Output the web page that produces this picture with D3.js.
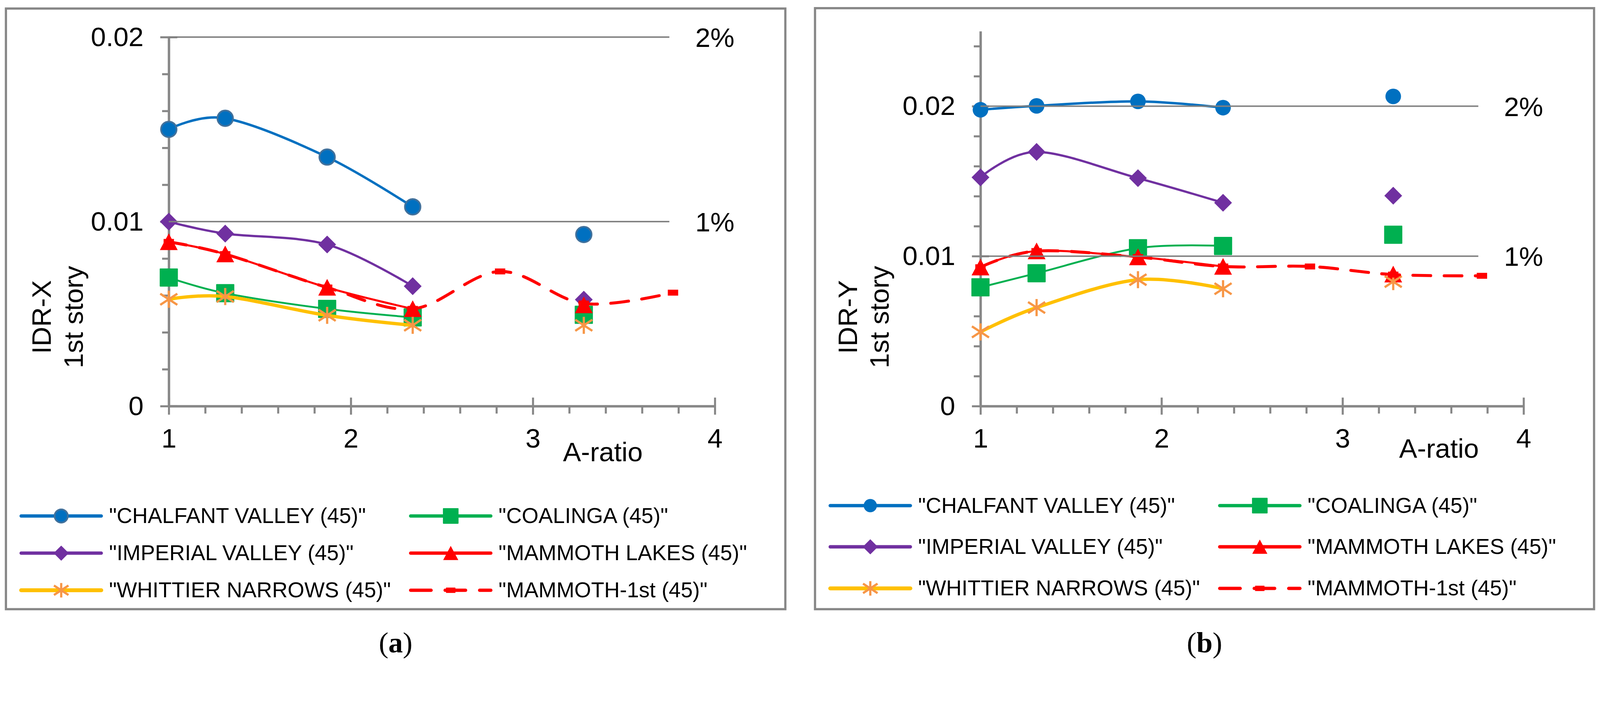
<!DOCTYPE html>
<html>
<head>
	<meta charset="utf-8" />
	<title>IDR 1st story vs A-ratio</title>
	<script src="https://cdn.jsdelivr.net/npm/d3@7"></script>
	<style>
		html, body { margin: 0; padding: 0; background: #fff; overflow: hidden; }
		#chart { display: block; width: 100vw; height: auto; max-height: 100vh; }
		svg text { font-family: "Liberation Sans", Arial, sans-serif; fill: #000; }
	</style>
</head>
<body>
	<svg id="chart" viewBox="0 0 4313 1801" preserveAspectRatio="xMinYMin meet"></svg>
	<script>
		// A-ratio positions (the 2.82 and 3.77 columns only carry the MAMMOTH-1st series)
		var aRatio = [1, 1.31, 1.87, 2.34, 2.82, 3.28, 3.77];

		// (a) IDR-X, 1st story
		var chalfantX   = [0.0150, 0.0156, 0.0135, 0.0108, null, 0.0093, null];
		var coalingaX   = [0.00697, 0.00612, 0.00527, 0.00481, null, 0.00495, null];
		var imperialX   = [0.0100, 0.00935, 0.00876, 0.0065, null, 0.00577, null];
		var mammothX    = [0.0089, 0.00824, 0.00643, 0.00527, null, 0.00548, null];
		var whittierX   = [0.00579, 0.00594, 0.00492, 0.00438, null, 0.00438, null];
		var mammoth1stX = [0.0089, 0.00824, 0.00643, 0.00527, 0.0073, 0.00556, 0.00615];

		// (b) IDR-Y, 1st story
		var chalfantY   = [0.01976, 0.02002, 0.02032, 0.0199, null, 0.02065, null];
		var coalingaY   = [0.00792, 0.00886, 0.01053, 0.01068, null, 0.01143, null];
		var imperialY   = [0.01525, 0.01695, 0.0152, 0.01356, null, 0.01403, null];
		var mammothY    = [0.00926, 0.01034, 0.00994, 0.00931, null, 0.00879, null];
		var whittierY   = [0.00495, 0.00657, 0.00843, 0.00783, null, 0.0083, null];
		var mammoth1stY = [0.00926, 0.01034, 0.00994, 0.00931, 0.00931, 0.00877, 0.00869];

		var seriesNames = ['"CHALFANT VALLEY (45)"', '"COALINGA (45)"', '"IMPERIAL VALLEY (45)"',
			'"MAMMOTH LAKES (45)"', '"WHITTIER NARROWS (45)"', '"MAMMOTH-1st (45)"'];

		var driftLevels = [0.01, 0.02];
		var driftLabels = ["1%", "2%"];
		var driftEnd = 3.75;

		var xTicks = [1, 2, 3, 4];
		var yTicks = [0, 0.01, 0.02];

		// styles, same order as seriesNames
		var styles = [
			{ color: "#0070C0", marker: "circle", width: 6.5, legendWidth: 9 },
			{ color: "#00B050", marker: "square", width: 5, legendWidth: 9 },
			{ color: "#7030A0", marker: "diamond", width: 6, legendWidth: 9 },
			{ color: "#FF0000", marker: "triangle", width: 5.5, legendWidth: 9 },
			{ color: "#FFC000", marker: "star", markerColor: "#F79646", width: 9, legendWidth: 10.5 },
			{ color: "#FF0000", marker: "dash", width: 8, legendWidth: 9, dashed: true }
		];

		var panels = [
			{ box: [16, 23, 2117, 1641], left: 455, right: 1927, top: 100, bottom: 1094, yMax: 0.02,
			  title: "IDR-X", titleX: 137, ringed: true, xTitle: [1625, 1242],
			  legendRows: [1390, 1490, 1590], tag: "a",
			  values: [chalfantX, coalingaX, imperialX, mammothX, whittierX, mammoth1stX] },
			{ box: [2197, 22, 4297, 1641], left: 2643, right: 4107, top: 84, bottom: 1094, yMax: 0.025,
			  title: "IDR-Y", titleX: 2310, ringed: false, xTitle: [3879, 1233],
			  legendRows: [1362, 1473, 1585], tag: "b",
			  values: [chalfantY, coalingaY, imperialY, mammothY, whittierY, mammoth1stY] }
		];

		var gray = "#878787";
		var svg = d3.select("#chart");
		svg.append("rect").attr("width", 4313).attr("height", 1801).attr("fill", "#fff");

		function markerPath(kind, s) {
			var p = d3.path();
			if (kind === "circle") {
				p.arc(0, 0, 21 * s, 0, 2 * Math.PI);
			} else if (kind === "diamond") {
				var r = 24 * s;
				p.moveTo(0, -r); p.lineTo(r, 0); p.lineTo(0, r); p.lineTo(-r, 0); p.closePath();
			} else if (kind === "square") {
				var h = 23 * s;
				p.rect(-h, -h, 2 * h, 2 * h);
			} else if (kind === "triangle") {
				p.moveTo(0, -23 * s); p.lineTo(24 * s, 22 * s); p.lineTo(-24 * s, 22 * s); p.closePath();
			} else if (kind === "star") {
				var a = 23 * s, b = 15 * s;
				p.moveTo(-a, -b); p.lineTo(a, b);
				p.moveTo(-a, b); p.lineTo(a, -b);
				p.moveTo(0, -a); p.lineTo(0, a);
			} else if (kind === "dash") {
				p.rect(-14 * s, -8 * s, 28 * s, 16 * s);
			}
			return p.toString();
		}

		function drawMarker(g, st, cx, cy, s, ringed) {
			var m = g.append("path")
				.attr("d", markerPath(st.marker, s))
				.attr("transform", "translate(" + cx + "," + cy + ")");
			if (st.marker === "star") {
				m.attr("fill", "none").attr("stroke", st.markerColor).attr("stroke-width", 6);
			} else {
				m.attr("fill", st.color).attr("stroke-linejoin", "round");
				if (st.marker === "circle" && ringed) {
					m.attr("stroke", "#41719C").attr("stroke-width", 4.5);
				} else if (st.marker === "square") {
					m.attr("stroke", st.color).attr("stroke-width", 3);
				}
			}
		}

		panels.forEach(function (p) {
			var g = svg.append("g");

			// panel frame
			g.append("rect")
				.attr("x", p.box[0]).attr("y", p.box[1])
				.attr("width", p.box[2] - p.box[0]).attr("height", p.box[3] - p.box[1])
				.attr("fill", "none").attr("stroke", gray).attr("stroke-width", 6);

			var x = d3.scaleLinear().domain([1, 4]).range([p.left, p.right]);
			var y = d3.scaleLinear().domain([0, p.yMax]).range([p.bottom, p.top]);

			// minor ticks
			var xMinor = d3.range(0, 16).filter(function (i) { return i % 5 !== 0; })
				.map(function (i) { return 1 + i * 0.2; });
			var yMinor = d3.range(1, Math.floor(p.yMax / 0.002 + 1e-6) + 1)
				.filter(function (i) { return i % 5 !== 0; })
				.map(function (i) { return i * 0.002; });

			var gxm = g.append("g").attr("transform", "translate(0," + p.bottom + ")")
				.call(d3.axisBottom(x).tickValues(xMinor).tickSizeInner(20).tickSizeOuter(0).tickFormat(""));
			var gym = g.append("g").attr("transform", "translate(" + p.left + ",0)")
				.call(d3.axisLeft(y).tickValues(yMinor).tickSizeInner(18).tickSizeOuter(0).tickFormat(""));
			[gxm, gym].forEach(function (a) {
				a.select(".domain").remove();
				a.selectAll(".tick line").attr("stroke", gray).attr("stroke-width", 5.5);
			});

			// major axes
			var gx = g.append("g").attr("transform", "translate(0," + p.bottom + ")")
				.call(d3.axisBottom(x).tickValues(xTicks).tickSizeInner(23).tickSizeOuter(0).tickFormat(d3.format("d")));
			gx.selectAll(".tick line").attr("y1", -23);
			gx.selectAll(".tick text").attr("y", 112).attr("dy", null);

			var gy = g.append("g").attr("transform", "translate(" + p.left + ",0)")
				.call(d3.axisLeft(y).tickValues(yTicks).tickSizeInner(23).tickSizeOuter(0).tickPadding(45)
					.tickFormat(function (d) { return d === 0 ? "0" : d3.format(".2f")(d); }));
			gy.selectAll(".tick line").attr("x1", 23);

			[gx, gy].forEach(function (a) {
				a.attr("font-family", null).attr("font-size", null);
				a.select(".domain").attr("stroke", gray).attr("stroke-width", 6.5);
				a.selectAll(".tick line").attr("stroke", gray).attr("stroke-width", 5.5);
				a.selectAll(".tick text").style("font-size", "73px");
			});

			// series
			var line = d3.line()
				.defined(function (d) { return d[1] != null; })
				.x(function (d) { return x(d[0]); })
				.y(function (d) { return y(d[1]); })
				.curve(d3.curveCardinal.tension(0));

			p.values.forEach(function (vals, i) {
				var st = styles[i];
				var pts = d3.zip(aRatio, vals);
				var path = g.append("path")
					.attr("d", line(pts))
					.attr("fill", "none")
					.attr("stroke", st.color)
					.attr("stroke-width", st.width)
					.attr("stroke-linecap", "round")
					.attr("stroke-linejoin", "round");
				if (st.dashed) path.attr("stroke-dasharray", "48,36");
				pts.filter(function (d) { return d[1] != null; }).forEach(function (d) {
					drawMarker(g, st, x(d[0]), y(d[1]), 1, p.ringed);
				});
			});

			// 1% / 2% drift lines
			driftLevels.forEach(function (lv, i) {
				g.append("line")
					.attr("x1", x(1)).attr("x2", x(driftEnd))
					.attr("y1", y(lv)).attr("y2", y(lv))
					.attr("stroke", "#808080").attr("stroke-width", 4);
				g.append("text")
					.attr("x", x(4)).attr("y", y(lv)).attr("dy", "0.36em")
					.attr("text-anchor", "middle").style("font-size", "73px")
					.text(driftLabels[i]);
			});

			// axis titles
			g.append("text")
				.attr("x", p.xTitle[0]).attr("y", p.xTitle[1])
				.attr("text-anchor", "middle").style("font-size", "73px")
				.text("A-ratio");
			[p.title, "1st story"].forEach(function (t, k) {
				g.append("text")
					.attr("transform", "translate(" + (p.titleX + k * 86) + ",854) rotate(-90)")
					.attr("text-anchor", "middle").style("font-size", "73px")
					.text(t);
			});

			// legend
			var colX = [p.box[0] + 41, p.box[0] + 1091];
			seriesNames.forEach(function (name, i) {
				var st = styles[i];
				var lx = colX[i % 2], ly = p.legendRows[Math.floor(i / 2)];
				var lg = g.append("g");
				var ln = lg.append("line")
					.attr("x1", lx).attr("x2", lx + 216)
					.attr("y1", ly).attr("y2", ly)
					.attr("stroke", st.color).attr("stroke-width", st.legendWidth)
					.attr("stroke-linecap", "round");
				if (st.dashed) ln.attr("stroke-dasharray", "55,38");
				drawMarker(lg, st, lx + 108, ly, st.marker === "dash" ? 0.9 : 0.85, p.ringed);
				lg.append("text")
					.attr("x", lx + 237).attr("y", ly + 19)
					.style("font-size", "58px")
					.text(name);
			});

			// sub-figure tag
			var tag = g.append("text")
				.attr("x", (p.box[0] + p.box[2]) / 2).attr("y", 1757)
				.attr("text-anchor", "middle")
				.style("font-family", "'Liberation Serif', 'Times New Roman', serif")
				.style("font-size", "78px");
			tag.append("tspan").text("(");
			tag.append("tspan").style("font-weight", "bold").text(p.tag);
			tag.append("tspan").text(")");
		});
	</script>
</body>
</html>
